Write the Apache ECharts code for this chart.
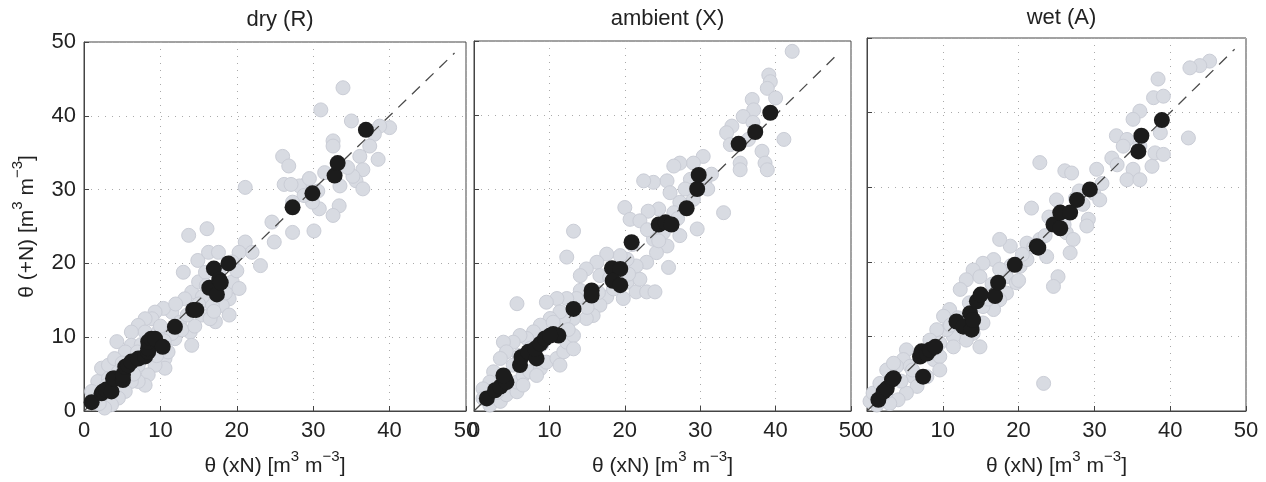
<!DOCTYPE html>
<html>
<head>
<meta charset="utf-8">
<script src="https://cdn.jsdelivr.net/npm/echarts@6/dist/echarts.min.js"></script>
<style>
html,body{margin:0;padding:0;background:#fff;}
#chart{width:1266px;height:482px;}
</style>
</head>
<body>
<div id="chart"></div>
<script>
const panelTitles = ['dry (R)', 'ambient (X)', 'wet (A)'];
const tickValues = [0, 10, 20, 30, 40, 50];
const oneToOne = [[0, 0], [48.5, 48.5]];

const dryGrey = [
[33.9,43.8],[31.0,40.8],[35.0,39.3],[40,38.4],[38.7,38.6],[38.0,37.5],[38.5,34.1],[37.4,35.9],[32.6,36.6],[32.6,35.9],
[36.1,34.5],[36.5,32.7],[35.6,31.2],[36.5,30.1],[35.2,31.8],[33.4,27.8],[32.6,26.5],[31.5,32.3],[30.6,29.8],[30.8,27.4],
[30.1,24.4],[29.9,28.3],[29.0,30.7],[28.2,30.5],[28.8,29.2],[26.0,34.5],[26.8,33.2],[26.2,30.7],[27.1,30.7],[27.3,24.2],
[27.3,28.3],[24.6,25.6],[24.9,22.9],[23.1,19.7],[21.1,30.3],[21.1,22.9],[22.0,21.5],[20.3,21.5],[16.1,24.7],[13.7,23.8],
[13.0,18.8],[14.9,20.4],[16.3,21.5],[17.6,21.5],[19.4,20.2],[17.6,18.8],[19.4,17.5],[20.3,16.6],[19.0,15.2],[18.1,14.3],
[19.0,13.0],[17.2,12.1],[15.4,13.0],[16.8,14.3],[14.1,16.1],[13.2,15.2],[15.0,17.5],[15.9,18.8],[13.9,10.7],[14.1,8.9],
[11.5,13.4],[10.4,13.9],[11.9,9.8],[9.3,13.4],[8.9,12.5],[9.7,10.7],[8.0,12.5],[7.1,11.6],[8.0,10.7],[6.2,10.7],
[4.3,9.4],[6.2,8.9],[5.4,8.0],[10.6,7.1],[10.6,5.8],[9.3,6.2],[8.4,4.9],[8.0,3.5],[7.1,4.0],[6.2,4.0],
[5.4,2.65],[4.5,1.75],[3.6,0.85],[2.7,0.4],[1.8,4.0],[2.3,5.8],[3.2,6.2],[4.0,7.1],[1.4,1.75],[1.0,2.65],
[3.2,4.4],[4.5,5.3],[7.1,6.2],[8.9,8.0],[12.5,12.0],[15.5,15.5],[16.5,12.5],[18.5,16.0],[12.8,11.0],[10.0,11.5],
[7.5,9.0],[5.0,6.5],[3.0,3.5],[2.0,1.0],[33.5,30.5],[34.5,33.0],[29.5,31.5],[14.5,11.5],[16.0,17.0],[11.0,8.0],
[12.0,14.5],[13.5,13.0],[9.5,7.5],[6.5,5.0],[11.5,10.5],[15.0,14.5],[17.0,13.5],[20.0,19.0],[10.5,9.5],[7.0,8.0]
];
const dryBlack = [
[1.0,1.2],[2.3,2.4],[2.5,2.65],[2.9,2.9],[3.6,2.65],[3.8,4.4],[4.0,4.4],[5.1,4.2],[5.1,4.9],[5.4,6.0],
[5.8,6.2],[6.2,6.7],[7.1,7.1],[8.0,7.4],[8.4,8.0],[8.4,8.5],[8.4,9.4],[8.8,9.8],[9.3,9.8],[10.3,8.7],
[11.9,11.4],[14.3,13.7],[14.7,13.7],[16.4,16.7],[17.4,15.8],[17.0,19.3],[17.7,17.8],[17.9,17.4],[18.9,20.0],[27.3,27.6],
[29.9,29.5],[32.8,31.9],[33.2,33.6],[36.9,38.1]
];

const ambGrey = [
[42.2,48.6],[39.1,45.4],[39.3,44.5],[38.9,43.6],[40.0,42.3],[36.9,42.1],[37.1,40.7],[35.7,39.8],[34.2,38.5],[33.5,37.6],
[36.4,36.7],[41.1,36.7],[38.2,35.1],[38.6,33.5],[38.9,32.6],[35.3,33.5],[35.3,32.6],[33.1,26.8],[30.4,34.4],[29.1,33.5],
[27.3,33.5],[26.5,33.1],[30.6,30.9],[25.6,31.1],[23.8,30.9],[22.5,31.1],[28.7,31.3],[29.1,28.6],[27.3,28.2],[26.5,26.8],
[24.5,27.3],[23.1,27.0],[20.0,27.5],[20.7,25.9],[22.0,25.7],[23.8,23.2],[25.1,24.1],[27.3,23.7],[25.6,22.3],[24.2,21.4],
[29.6,24.6],[25.8,19.4],[22.9,20.1],[21.5,19.6],[20.3,20.5],[19.4,21.0],[17.6,21.2],[16.3,20.1],[14.9,19.2],[14.1,18.3],
[16.7,18.3],[20.3,17.4],[21.5,16.1],[22.9,16.1],[22.0,17.8],[24.0,16.1],[19.8,15.2],[17.6,15.4],[16.7,14.3],[14.1,16.3],
[13.6,15.2],[12.3,15.2],[11.0,15.2],[9.6,14.7],[12.3,20.8],[13.2,24.3],[5.7,14.5],[15.8,12.9],[14.9,12.5],[13.2,12.5],
[11.9,12.5],[11.4,13.4],[10.1,12.5],[8.8,11.6],[7.9,10.7],[7.0,9.8],[6.1,10.2],[5.2,9.3],[3.9,9.3],[4.3,8.0],
[3.5,7.1],[2.6,5.3],[2.1,3.9],[1.2,3.0],[1.2,1.7],[2.1,0.8],[3.5,1.3],[4.3,2.2],[5.7,2.6],[5.7,3.9],
[6.5,4.8],[7.4,5.3],[8.8,5.7],[9.6,6.6],[11.0,7.1],[11.9,8.0],[12.3,9.3],[13.2,10.2],[13.2,8.4],[11.4,6.2],
[8.3,4.8],[6.5,3.5],[5.2,6.2],[18.0,18.0],[21.0,22.5],[26.0,29.5],[31.5,32.0],[10.5,12.0],[7.5,8.5],[16.5,16.0],
[19.0,19.0],[23.0,24.5],[28.0,30.0],[34.0,36.0],[37.0,39.0],[9.0,9.0],[3.0,2.5],[15.0,14.0],[12.5,11.0],[6.0,7.5],
[24.5,23.0],[27.0,26.0],[31.0,30.0],[18.5,16.5],[20.5,18.5]
];
const ambBlack = [
[1.7,1.7],[2.8,2.8],[3.5,3.3],[4.1,4.4],[4.3,3.9],[3.9,4.8],[6.1,6.2],[6.3,7.3],[7.2,8.0],[8.3,7.1],
[8.1,8.4],[8.8,9.1],[9.4,9.8],[10.5,10.4],[11.2,10.2],[10.1,10.2],[13.2,13.8],[15.6,16.3],[15.6,15.6],[18.3,19.3],
[19.4,19.2],[18.4,17.6],[19.4,17.0],[20.9,22.8],[24.5,25.2],[25.4,25.5],[26.2,25.2],[28.2,27.4],[29.6,30.0],[29.8,31.9],
[35.1,36.1],[37.3,37.7],[39.3,40.3]
];

const wetGrey = [
[45.2,46.9],[43.9,46.3],[42.6,46.0],[38.4,44.5],[37.8,42.0],[39.1,42.2],[36.0,40.2],[35.1,39.1],[38.7,37.3],[42.4,36.6],
[32.9,36.9],[34.3,36.4],[33.8,35.5],[36.0,35.5],[38.0,34.6],[39.1,34.4],[37.6,32.8],[35.1,32.4],[34.3,31.0],[36.0,31.0],
[32.3,33.9],[30.3,32.4],[26.1,32.2],[27.0,31.9],[22.8,33.3],[29.9,29.2],[30.7,28.3],[28.5,27.7],[29.2,25.7],[21.7,27.2],
[25.0,28.3],[26.3,23.9],[27.2,23.0],[29.0,24.8],[26.8,21.2],[23.7,20.7],[25.2,18.0],[24.6,16.7],[22.8,23.0],[21.1,22.5],
[18.9,22.1],[17.5,23.0],[16.7,20.3],[15.3,19.8],[14.0,18.9],[13.1,17.6],[12.3,16.3],[14.9,18.0],[18.4,18.0],[20.2,19.4],
[21.1,20.3],[19.7,17.2],[18.4,15.8],[17.5,14.9],[16.7,13.6],[15.3,14.0],[15.3,11.8],[14.0,10.4],[14.9,8.6],[13.1,9.5],
[11.4,10.0],[10.5,10.9],[10.9,13.6],[10.1,12.7],[9.2,10.9],[9.6,9.1],[8.3,9.5],[5.2,8.2],[4.8,6.9],[3.9,6.0],
[5.7,6.0],[6.1,4.6],[8.8,6.9],[9.6,7.3],[6.6,3.3],[5.2,2.4],[4.1,1.5],[3.0,1.0],[1.3,0.8],[0.4,1.3],
[0.8,2.4],[1.7,3.7],[2.6,5.5],[3.5,6.4],[23.3,3.7],[11.4,8.6],[7.9,4.6],[9.6,5.5],[24.0,26.0],[27.5,28.5],
[20.5,21.0],[16.5,17.0],[12.0,12.5],[13.5,14.5],[7.0,7.5],[4.5,4.0],[2.5,2.5],[31.0,30.5],[33.0,33.0],[19.0,19.5],
[22.0,22.0],[17.5,19.0],[8.0,8.0],[6.0,5.5],[11.0,11.5],[16.0,15.0],[20.0,17.5],[23.5,23.5],[26.0,25.0],[28.0,29.5]
];
const wetBlack = [
[1.5,1.5],[2.2,2.6],[2.6,3.0],[3.3,4.2],[3.5,4.4],[7.0,7.3],[7.2,8.0],[7.9,7.7],[8.3,8.2],[9.0,8.6],
[7.4,4.6],[11.8,12.0],[12.7,11.3],[13.8,10.9],[13.6,13.1],[14.0,12.2],[14.5,14.7],[15.0,15.6],[16.9,15.4],[17.3,17.2],
[19.5,19.6],[22.4,22.1],[22.6,21.9],[24.6,25.0],[25.5,24.5],[25.5,26.6],[26.8,26.6],[27.7,28.3],[29.4,29.7],[35.8,34.8],
[36.2,36.9],[38.9,39.0]
];

const greys = [dryGrey, ambGrey, wetGrey];
const blacks = [dryBlack, ambBlack, wetBlack];

const FONT = 'Liberation Sans, Arial, Helvetica, sans-serif';
const grids = [
  {left: 84, top: 42, width: 382, height: 371},
  {left: 474, top: 41, width: 377, height: 372},
  {left: 867, top: 38, width: 379, height: 373}
];

const nameRich = {
  a: {fontFamily: FONT, fontSize: 21, color: '#222', lineHeight: 28, verticalAlign: 'bottom'},
  s: {fontFamily: FONT, fontSize: 15, color: '#222', lineHeight: 15, verticalAlign: 'top'}
};

const option = {
  backgroundColor: '#fff',
  animation: false,
  title: grids.map((g, i) => ({
    text: panelTitles[i],
    left: g.left + g.width / 2,
    top: [4, 3, 2][i],
    textAlign: 'center',
    textStyle: {fontFamily: FONT, fontSize: 22, fontWeight: 'normal', color: '#222'}
  })),
  grid: grids.map(g => Object.assign({show: true, borderColor: '#444', borderWidth: 1, backgroundColor: 'transparent'}, g)),
  xAxis: grids.map((g, i) => ({
    type: 'value', gridIndex: i, min: 0, max: 50, interval: 10,
    name: '{a|θ (xN) [m}{s|3}{a| m}{s|−3}{a|]}',
    nameLocation: 'middle', nameGap: 38,
    nameTextStyle: {rich: nameRich},
    axisLine: {show: true, lineStyle: {color: '#444', width: 1}},
    axisTick: {show: true, inside: true, length: 5, lineStyle: {color: '#444'}},
    axisLabel: {show: true, margin: 9, fontFamily: FONT, fontSize: 22, color: '#222', showMinLabel: true, showMaxLabel: true,
      formatter: v => tickValues.includes(v) ? String(v) : ''},
    splitLine: {show: true, lineStyle: {color: '#aaa', type: [1, 6], width: 1}}
  })),
  yAxis: grids.map((g, i) => ({
    type: 'value', gridIndex: i, min: 0, max: 50, interval: 10,
    name: i === 0 ? '{a|θ (+N) [m}{s|3}{a| m}{s|−3}{a|]}' : '',
    nameLocation: 'middle', nameGap: 46, nameRotate: 90,
    nameTextStyle: {rich: nameRich},
    axisLine: {show: true, lineStyle: {color: '#444', width: 1}},
    axisTick: {show: true, inside: true, length: 5, lineStyle: {color: '#444'}},
    axisLabel: {show: i === 0, margin: 8, fontFamily: FONT, fontSize: 22, color: '#222', showMinLabel: true, showMaxLabel: true},
    splitLine: {show: true, lineStyle: {color: '#aaa', type: [1, 6], width: 1}}
  })),
  series: []
};

for (let i = 0; i < 3; i++) {
  option.series.push({
    type: 'scatter', xAxisIndex: i, yAxisIndex: i, data: greys[i], symbolSize: 14, z: 2,
    itemStyle: {color: '#d8dbe2', borderColor: '#cacdd6', borderWidth: 1, opacity: 1}
  });
  option.series.push({
    type: 'line', xAxisIndex: i, yAxisIndex: i, data: oneToOne, symbol: 'none', z: 3,
    lineStyle: {color: '#4a4a4a', width: 1.3, type: [11, 8]}
  });
  option.series.push({
    type: 'scatter', xAxisIndex: i, yAxisIndex: i, data: blacks[i], symbolSize: 16, z: 4,
    itemStyle: {color: '#1c1c1c', opacity: 1}
  });
}

const chart = echarts.init(document.getElementById('chart'), null, {renderer: 'canvas'});
chart.setOption(option);
</script>
</body>
</html>
